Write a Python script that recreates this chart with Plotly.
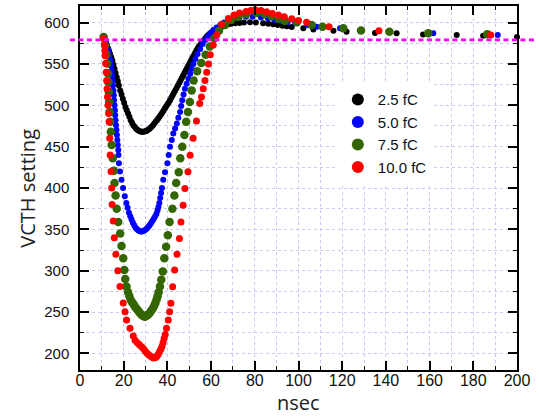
import plotly.graph_objects as go

# ---- data ----
labels = ["2.5 fC", "5.0 fC", "7.5 fC", "10.0 fC"]
colors = ["#000000", "#0000ff", "#336600", "#ff0000"]
sizes = [6, 6, 8.5, 7]

x_25 = [10.8, 11.3, 11.8, 12.3, 12.8, 13.3, 13.8, 14.3, 14.8, 15.3, 15.8, 16.3, 16.8, 17.3, 17.8,
        18.4, 19.0, 19.6, 20.2, 20.8, 21.4, 22.0, 22.6, 23.2, 23.8, 24.4, 25.0, 25.6, 26.2, 26.8,
        27.4, 28.0, 28.6, 29.2, 29.8, 30.4, 31.0, 31.6, 32.2, 32.8, 33.4, 34.0, 34.6, 35.2, 35.8,
        36.4, 37.0, 37.6, 38.2, 38.8, 39.4, 40.0, 40.6, 41.2, 41.8, 42.4, 43.0, 43.6, 44.2, 44.8,
        45.4, 46.0, 46.6, 47.2, 47.8, 48.4, 49.0, 49.6, 50.2, 50.8, 51.4, 52.0, 52.6, 53.2, 53.8,
        54.4, 55.0, 55.6, 56.2, 56.8, 57.4, 58.0, 58.7, 59.4, 60.2, 61.0, 61.9, 62.8, 63.8, 64.9,
        66.2, 67.6, 69.2, 71.0, 73.0, 75.0, 77.8, 80.5, 83.8, 86.2, 88.4, 90.5, 92.7, 94.7, 96.9,
        102.2, 106.8, 116.0, 122.0, 135.0, 144.9, 157.0, 172.4, 184.5, 200.0]
y_25 = [582, 579, 576, 573, 569, 566, 562, 558, 554, 549, 544, 539, 534, 529, 524,
        518, 513, 508, 503, 498, 494, 490, 486, 482, 479, 476, 474, 472, 470.5, 469.5,
        468.5, 468, 468, 468, 468.5, 469, 470, 471, 472.5, 474, 476, 478, 480, 482, 484,
        486, 488.5, 491, 493.5, 496, 498.5, 501, 503.5, 506, 509, 512, 515, 518, 521, 524,
        527, 530, 533, 536, 539, 542, 545, 548, 551, 554, 557, 560, 563, 566, 568.5,
        571, 573, 575, 577, 579, 581, 583, 585, 586.5, 588, 589.5, 591, 592.5, 594, 595,
        596.5, 597.5, 598.5, 599, 599.5, 600, 600.5, 600, 599, 598.5, 598, 597, 596, 595.5, 594.7,
        593, 591.5, 590, 589, 587.5, 587, 585.5, 585, 584, 582.6]

x_50 = [11.0, 11.8, 12.4, 13.0, 13.5, 13.9, 14.2, 14.5, 14.7, 14.9, 15.1, 15.3, 15.5, 15.6, 15.8,
        16.0, 16.1, 16.3, 16.5, 16.7, 16.9, 17.1, 17.3, 17.5, 17.6, 17.8, 18.3, 19.0, 19.7, 20.5,
        21.2, 21.8, 22.4, 23.0, 23.6, 24.2, 24.8, 25.4, 26.0, 26.6, 27.2, 27.8, 28.4, 29.0, 29.6,
        30.2, 30.8, 31.4, 32.0, 32.6, 33.2, 33.8, 34.4, 35.0, 35.5, 35.9, 36.3, 36.7, 37.1, 37.5,
        38.1, 38.9, 40.0, 40.6, 41.2, 42.0, 42.7, 43.5, 44.3, 45.0, 45.8, 46.3, 46.8, 47.4, 48.0,
        48.8, 49.6, 50.4, 51.1, 51.9, 52.8, 53.8, 55.0, 56.1, 57.3, 58.5, 59.7, 61.0, 62.5, 64.2,
        66.0, 67.9, 70.4, 73.0, 76.0, 79.0, 82.8, 86.0, 89.0, 92.0, 95.0, 98.5, 104.0, 108.3, 119.0,
        161.7, 191.2]
y_50 = [583, 578, 572, 566, 560, 554, 548, 542, 536, 530, 524, 518, 512, 506, 500,
        494, 488, 482, 476, 470, 464, 458, 452, 446, 440, 430, 420, 410, 400, 390,
        382, 376, 370, 366, 362, 358, 355, 352, 350.5, 349, 348, 347.5, 347.5, 348, 349,
        350, 351.5, 353.5, 355.5, 358, 360.5, 363, 366, 369, 373, 377, 382, 388, 394, 400,
        410, 419, 430, 440, 450, 458, 466, 472, 478, 485, 492, 499, 506, 513, 520,
        526, 532, 538, 544, 550, 556, 562, 568, 574, 579, 583.5, 587.5, 591, 594, 597,
        600, 602.5, 604.5, 606, 607, 607, 606, 605, 603.5, 602, 600.5, 599, 597, 595, 593,
        587, 585]

x_75 = [10.8, 11.5, 12.1, 12.5, 12.8, 13.0, 13.2, 13.4, 13.6, 13.8, 14.1, 14.5, 15.0, 15.5, 15.8,
        16.3, 16.8, 17.5, 18.4, 19.0, 19.8, 20.3, 20.7, 21.3, 22.0, 22.6, 23.2, 23.8, 24.4, 25.0,
        25.6, 26.2, 26.8, 27.4, 28.0, 28.6, 29.2, 29.8, 30.4, 31.0, 31.6, 32.2, 32.8, 33.4, 34.0,
        34.5, 35.0, 35.5, 36.0, 36.6, 37.2, 37.9, 38.6, 39.4, 40.2, 41.0, 42.3, 43.2, 44.0, 45.2,
        45.9, 46.8, 47.8, 48.6, 49.4, 50.3, 51.1, 52.0, 53.6, 55.5, 57.5, 59.4, 61.5, 63.6, 66.4,
        69.2, 72.4, 76.0, 80.8, 84.5, 87.7, 91.0, 93.8, 99.2, 106.0, 111.0, 120.5, 128.6, 141.6, 159.4,
        186.4]
y_75 = [582.6, 572.6, 561, 550.5, 538.5, 528, 516, 504, 492, 480, 468, 452, 436, 421, 406,
        391, 375, 359, 345, 330, 315, 301, 290, 281, 274, 269, 265, 262, 260, 257,
        255, 253, 251, 249, 247.5, 246, 245, 244.5, 245.5, 246.5, 248, 250, 252.5, 255, 258,
        261, 265, 269, 274, 281, 289, 299, 315, 329, 343, 359, 375, 391, 406, 419,
        436, 450, 464, 480, 492, 504, 518, 530, 541, 551, 561, 571, 581, 590, 597,
        603, 607, 610, 611.5, 610, 607.5, 604.5, 602, 600.4, 597, 595, 593, 590.3, 589, 587,
        586]

x_100 = [10.7, 11.2, 11.4, 11.5, 11.7, 12.0, 12.2, 12.4, 12.6, 12.8, 13.1, 13.3, 13.6, 13.8, 14.2,
         14.5, 14.7, 15.2, 15.7, 16.4, 17.3, 18.3, 19.8, 20.6, 21.3, 22.9, 24.4, 25.2, 26.2, 27.2,
         28.2, 29.0, 29.8, 30.6, 31.4, 32.2, 33.0, 33.8, 34.6, 35.2, 35.8, 36.4, 37.0, 37.5, 38.0,
         38.5, 39.0, 39.6, 40.4, 41.0, 41.6, 42.4, 43.3, 44.4, 45.5, 46.2, 47.2, 48.0, 49.4, 50.4,
         51.8, 53.3, 54.8, 55.6, 56.4, 57.2, 58.0, 58.8, 59.6, 61.0, 62.6, 64.8, 67.9, 70.5, 73.0,
         76.0, 78.2, 80.2, 82.8, 85.4, 88.0, 90.8, 93.5, 96.9, 100.0, 103.7, 114.0, 136.8, 188.0]
y_100 = [580.7, 573, 566, 560, 550.5, 540, 530, 520, 510, 500, 490, 480, 460, 440, 420,
         400, 380, 360, 340, 320, 300, 281, 261, 250.5, 240.5, 230.4, 221, 216, 213, 210.5,
         208, 206, 203, 200.5, 198.5, 197, 195.5, 194.5, 195, 196.5, 199, 202, 205, 208.5, 213,
         218, 223, 230.4, 240.5, 250.5, 260.6, 280.7, 301, 320, 339, 359, 379, 399.5, 419.6, 439.7,
         460, 481, 502, 510, 520, 530, 540, 550, 561, 573, 585, 598, 605, 609, 611.5,
         613.5, 614.5, 615.5, 614.5, 613, 611, 609, 607, 604.5, 602.5, 600.4, 595, 590, 585]

xs = [x_25, x_50, x_75, x_100]
ys = [y_25, y_50, y_75, y_100]

threshold = 579

x_range = [0, 200]
y_range = [180, 620]

fig = go.Figure()
for xv, yv, name, col, sz in zip(xs, ys, labels, colors, sizes):
    fig.add_trace(go.Scatter(
        x=xv, y=yv, mode="markers", name=name,
        marker=dict(color=col, size=sz, line=dict(width=0)),
        cliponaxis=False,
    ))

fig.add_shape(type="line", xref="paper", yref="y",
              x0=-0.023, x1=1.04, y0=threshold, y1=threshold,
              line=dict(color="#ff00ff", width=2.6, dash="5px,3.5px"),
              layer="above")

axis_common = dict(
    showline=True, linecolor="#000000", linewidth=1.5, mirror="ticks",
    ticks="inside", ticklen=9, tickwidth=1.5, tickcolor="#000000",
    showgrid=True, gridcolor="#c9c9f7", griddash="dot", gridwidth=1,
    zeroline=False, automargin=False,
)

fig.update_xaxes(
    range=x_range, dtick=20, tick0=0,
    minor=dict(dtick=10, ticks="inside", ticklen=4.5, tickwidth=1.2, tickcolor="#000000",
               showgrid=True, gridcolor="#c9c9f7", griddash="dot", gridwidth=1),
    tickfont=dict(family="Liberation Sans, Arial", size=16, color="#111111"),
    ticklabelstandoff=-5,
    **axis_common,
)
fig.update_yaxes(
    range=y_range, dtick=50, tick0=0,
    minor=dict(dtick=25, ticks="inside", ticklen=4.5, tickwidth=1.2, tickcolor="#000000",
               showgrid=True, gridcolor="#c9c9f7", griddash="dot", gridwidth=1),
    tickfont=dict(family="Liberation Sans, Arial", size=15, color="#111111"),
    ticklabelstandoff=6,
    **axis_common,
)

title_font = dict(family="Open Sans", size=20, color="#222222")
fig.add_annotation(text="nsec", xref="paper", yref="paper", x=0.5, y=-0.088,
                   xanchor="center", yanchor="middle", showarrow=False, font=title_font)
fig.add_annotation(text="VCTH setting", xref="paper", yref="paper", x=-0.122, y=0.5,
                   xanchor="center", yanchor="middle", textangle=-90, showarrow=False,
                   font=title_font)

fig.update_layout(
    width=539, height=416,
    margin=dict(l=80, r=22, t=6, b=46, autoexpand=False),
    paper_bgcolor="white", plot_bgcolor="white",
    showlegend=True,
    legend=dict(x=0.59, y=0.788, xanchor="left", yanchor="top",
                bgcolor="white", borderwidth=0, itemsizing="constant",
                font=dict(family="Liberation Sans, Arial", size=15, color="#111111"),
                tracegroupgap=0),
)

fig.write_html("out.html", config={"displayModeBar": False},
               post_script="document.body.style.margin='0px';document.body.style.padding='0px';")
